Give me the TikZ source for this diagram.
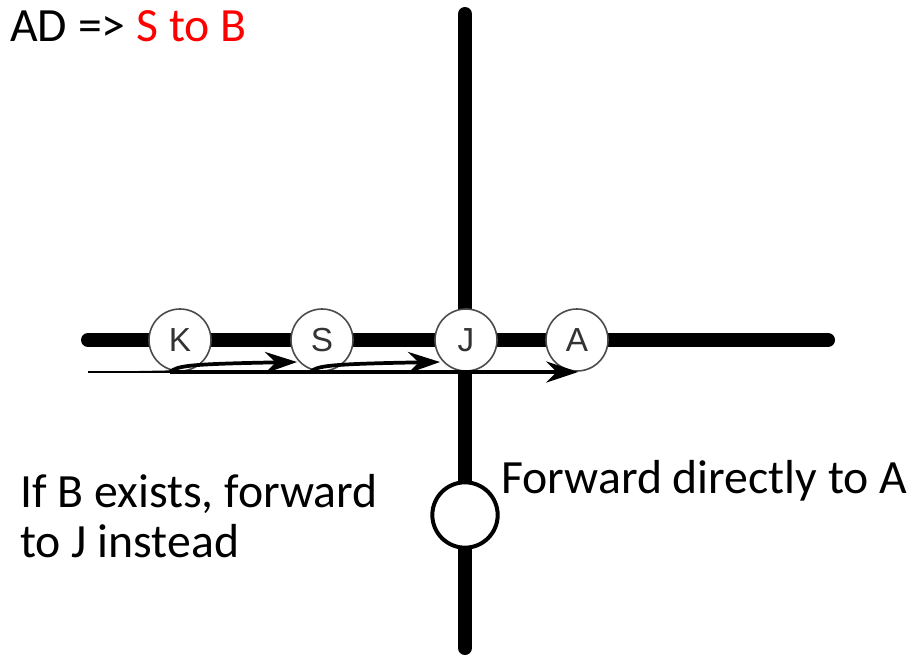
\documentclass[tikz,border=0pt]{standalone}
\usepackage{fontspec}
\setmainfont{Carlito}
\newfontfamily\letterfont{Liberation Sans}
\usetikzlibrary{arrows.meta}
\begin{document}
\begin{tikzpicture}[x=0.75pt,y=-0.75pt,
  road/.style={line width=10.5pt,line cap=round},
  stop/.style={circle,draw=black!70,line width=1.2pt,fill=white,minimum size=46.5pt,inner sep=0pt,font=\letterfont\fontsize{25}{25}\selectfont,text=black!80},
  hop/.style={line width=2.8pt,-{Stealth[length=24pt,width=16pt,inset=8pt]}},
  label/.style={anchor=base west,inner sep=0pt,font=\fontsize{35.8}{38}\selectfont}]
\useasboundingbox (0,0) rectangle (912,656);
% roads
\coordinate (hl) at (88,340);
\coordinate (hr) at (828,340);
\coordinate (vt) at (465,14);
\coordinate (vb) at (465,648);
\draw[road] (hl) -- (hr);
\draw[road] (vt) -- (vb);
% stops
\node[stop] (K) at (180,340) {K};
\node[stop] (S) at (322,340) {S};
\node[stop] (J) at (466,340) {J};
\node[stop] (A) at (577,340) {A};
\node[circle,draw=black,line width=3pt,fill=white,minimum size=49pt,inner sep=0pt] (B) at (465,515) {};
% arrows
\coordinate (start) at (88,372);
\coordinate (k0) at (170,372);
\coordinate (s0) at (310,372);
\coordinate (a1) at (297,362);
\coordinate (a2) at (440,362);
\coordinate (a3) at (578,372);
\fill (start) -- (k0) -- ++(0,-1.6) -- cycle;
\draw[line width=1pt] (start) -- (k0);
\draw[hop] (k0) -- (a3);
\draw[hop] (k0) .. controls (178,366) and (185,364) .. (a1);
\draw[hop] (s0) .. controls (318,366) and (325,364) .. (a2);
% texts
\node[label] (t1) at (10,42) {AD => \textcolor{red}{S to B}};
\node[label] (t2) at (501,493) {Forward directly to A};
\node[label] (t3) at (20,507) {If B exists, forward};
\node[label] (t4) at (20,557) {to J instead};
\end{tikzpicture}
\end{document}
